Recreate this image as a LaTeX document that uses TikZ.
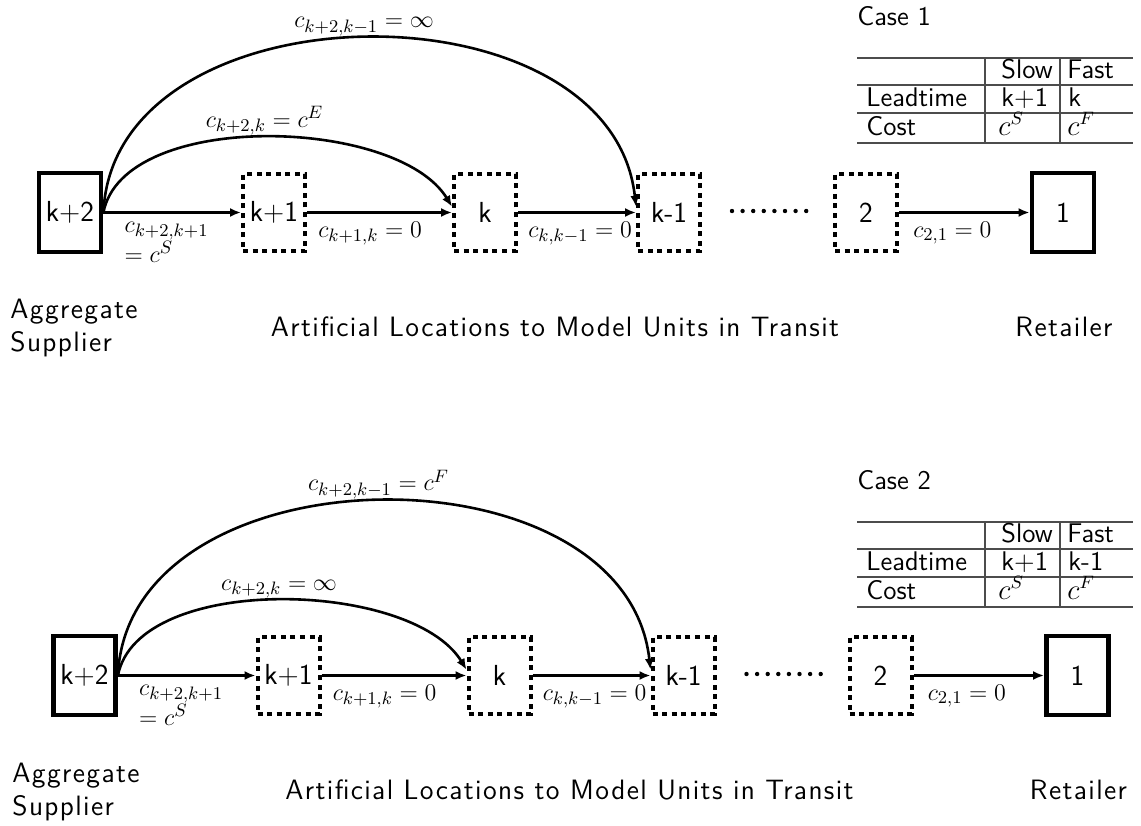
\documentclass[tikz,border=0pt]{standalone}
\usepackage{fontspec}
\setmainfont{Latin Modern Sans}
\usetikzlibrary{arrows.meta}
\begin{document}
\begin{tikzpicture}[x=0.5pt,y=-0.5pt,
  solidbox/.style={draw, line width=2.4pt, minimum width=31pt, minimum height=39.5pt, inner sep=0pt, font=\fontsize{14.5}{16}\selectfont},
  dotbox/.style={draw, line width=2pt, dash pattern=on 2.5pt off 2.3pt, minimum width=31pt, minimum height=38.5pt, inner sep=0pt, font=\fontsize{14.5}{16}\selectfont},
  flow/.style={line width=1.3pt, -{Latex[length=5.5pt,width=4.5pt]}},
  elabel/.style={font=\fontsize{13}{15}\selectfont, inner sep=0pt, anchor=north west, yshift=-4pt},
  arclabel/.style={font=\fontsize{13}{15}\selectfont, inner sep=0pt, above=0.5pt},
  ellipsis/.style={line width=2.2pt, line cap=round, dash pattern=on 0pt off 5.3pt},
  bigtext/.style={font=\fontsize{14}{16.5}\selectfont\addfontfeatures{LetterSpace=5}, inner sep=0pt},
  tabtext/.style={font=\fontsize{13.5}{15}\selectfont, inner sep=0pt, anchor=base west},
  grid/.style={line width=0.6pt, black!70},
]
\useasboundingbox (0,0) rectangle (1141,825);

% ---------------- Case 1 ----------------
\node[solidbox] (akp2) at (70,212.5) {k+2};
\node[dotbox] (akp1) at (274,212.5) {k+1};
\node[dotbox] (ak) at (485,212.5) {k};
\node[dotbox] (akm1) at (669,212.5) {k-1};
\coordinate (adotsL) at (732,211);
\coordinate (adotsR) at (807,211);
\node[dotbox] (atwo) at (866,212.5) {2};
\node[solidbox] (aone) at (1063,212.5) {1};

\draw[flow] (akp2) -- node[pos=0, elabel, xshift=10pt, align=left] {$c_{k+2,k+1}$\\$= c^S$} (akp1);
\draw[flow] (akp1) -- node[pos=0, elabel, xshift=5pt] {$c_{k+1,k} = 0$} (ak);
\draw[flow] (ak) -- node[pos=0, elabel, xshift=4.5pt] {$c_{k,k-1} = 0$} (akm1);
\draw[ellipsis] (adotsL) -- (adotsR);
\draw[flow] (atwo) -- node[pos=0, elabel, xshift=6.5pt] {$c_{2,1} = 0$} (aone);

\draw[flow] (akp2.east) .. controls +(20,-103) and +(-55,-90) .. node[pos=0.5, arclabel] {$c_{k+2,k} = c^E$} (ak.170);
\draw[flow] (akp2.east) .. controls +(10,-229) and +(-25,-229) .. node[pos=0.5, arclabel] {$c_{k+2,k-1} = \infty$} (akm1.170);

\node[bigtext, anchor=north west, align=left] (asup) at (10,299) {Aggregate\\Supplier};
\node[bigtext, anchor=base] (aart) at (555,336) {Artificial Locations to Model Units in Transit};
\node[bigtext, anchor=base] (aret) at (1064,336) {Retailer};

\node[tabtext] (acase) at (857,25) {Case 1};
\draw[grid] (857,58) -- (1133,58);
\draw[grid] (857,85) -- (1133,85);
\draw[grid] (857,113) -- (1133,113);
\draw[grid] (857,143) -- (1133,143);
\draw[grid] (985,58) -- (985,143);
\draw[grid] (1060,58) -- (1060,143);
\node[tabtext] (aslow) at (1001,78) {Slow};
\node[tabtext] (afast) at (1067,78) {Fast};
\node[tabtext] (alead) at (866,106) {Leadtime};
\node[tabtext] (aleads) at (1001,106) {k+1};
\node[tabtext] (aleadf) at (1068,106) {k};
\node[tabtext] (acost) at (866,135) {Cost};
\node[tabtext] (acosts) at (998,135) {$c^S$};
\node[tabtext] (acostf) at (1067,135) {$c^F$};

% ---------------- Case 2 ----------------
\begin{scope}[shift={(14.5,463)}]
\node[solidbox] (bkp2) at (70,212.5) {k+2};
\node[dotbox] (bkp1) at (274,212.5) {k+1};
\node[dotbox] (bk) at (485,212.5) {k};
\node[dotbox] (bkm1) at (669,212.5) {k-1};
\coordinate (bdotsL) at (732,211);
\coordinate (bdotsR) at (807,211);
\node[dotbox] (btwo) at (866,212.5) {2};
\node[solidbox] (bone) at (1063,212.5) {1};

\draw[flow] (bkp2) -- node[pos=0, elabel, xshift=10pt, align=left] {$c_{k+2,k+1}$\\$= c^S$} (bkp1);
\draw[flow] (bkp1) -- node[pos=0, elabel, xshift=5pt] {$c_{k+1,k} = 0$} (bk);
\draw[flow] (bk) -- node[pos=0, elabel, xshift=4.5pt] {$c_{k,k-1} = 0$} (bkm1);
\draw[ellipsis] (bdotsL) -- (bdotsR);
\draw[flow] (btwo) -- node[pos=0, elabel, xshift=6.5pt] {$c_{2,1} = 0$} (bone);

\draw[flow] (bkp2.east) .. controls +(20,-103) and +(-55,-90) .. node[pos=0.5, arclabel] {$c_{k+2,k} = \infty$} (bk.170);
\draw[flow] (bkp2.east) .. controls +(10,-229) and +(-25,-229) .. node[pos=0.5, arclabel] {$c_{k+2,k-1} = c^F$} (bkm1.170);

\node[bigtext, anchor=base] (bart) at (555,336) {Artificial Locations to Model Units in Transit};
\node[bigtext, anchor=base] (bret) at (1064,336) {Retailer};
\end{scope}

\node[bigtext, anchor=north west, align=left] (bsup) at (12,763) {Aggregate\\Supplier};

\begin{scope}[shift={(0,464)}]
\node[tabtext] (bcase) at (857,25) {Case 2};
\draw[grid] (857,58) -- (1133,58);
\draw[grid] (857,85) -- (1133,85);
\draw[grid] (857,113) -- (1133,113);
\draw[grid] (857,143) -- (1133,143);
\draw[grid] (985,58) -- (985,143);
\draw[grid] (1060,58) -- (1060,143);
\node[tabtext] (bslow) at (1001,78) {Slow};
\node[tabtext] (bfast) at (1067,78) {Fast};
\node[tabtext] (blead) at (866,106) {Leadtime};
\node[tabtext] (bleads) at (1001,106) {k+1};
\node[tabtext] (bleadf) at (1068,106) {k-1};
\node[tabtext] (bcost) at (866,135) {Cost};
\node[tabtext] (bcosts) at (998,135) {$c^S$};
\node[tabtext] (bcostf) at (1067,135) {$c^F$};
\end{scope}
\end{tikzpicture}
\end{document}
